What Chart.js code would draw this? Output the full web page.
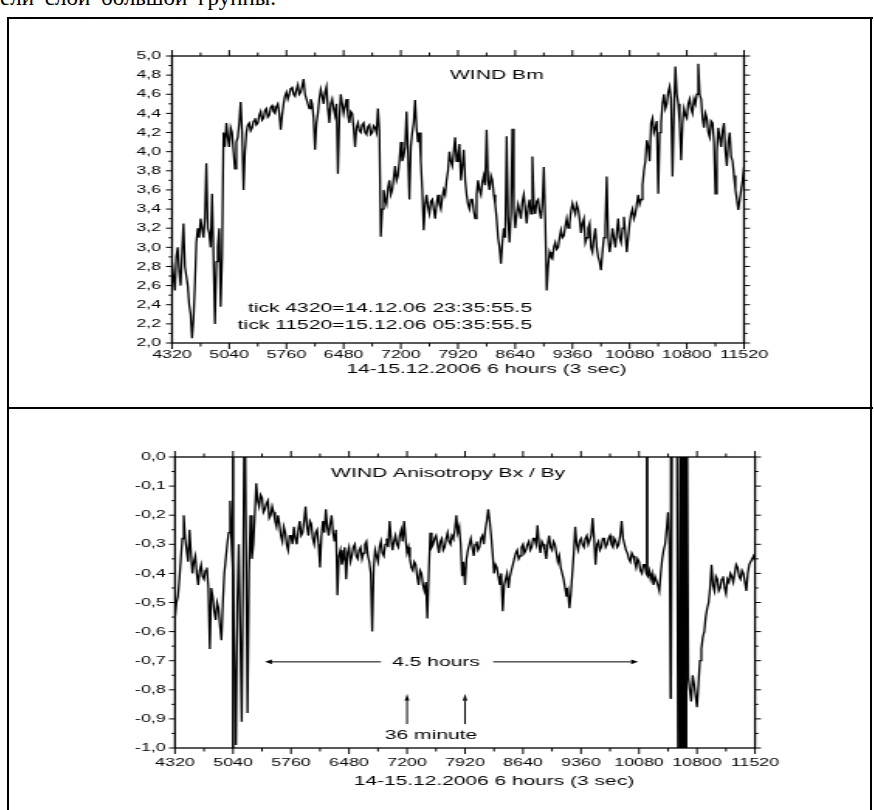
<!DOCTYPE html>
<html>
<head>
<meta charset="utf-8">
<script src="https://cdn.jsdelivr.net/npm/chart.js@4"></script>
<style>
  body { margin: 0; background: #fff; width: 874px; height: 810px; overflow: hidden; position: relative; }
  .rule { position: absolute; background: #000; }
  canvas.plot { position: absolute; }
  #caption { position: absolute; left: 0; top: -15px; font: 23px "Liberation Serif", "Times New Roman", serif; word-spacing: 5px; white-space: nowrap; color: #000; }
</style>
</head>
<body>
<div id="caption">ели слой большой группы.</div>
<div class="rule" style="left:7px;top:17px;width:866px;height:2px"></div>
<div class="rule" style="left:7px;top:17px;width:2px;height:800px"></div>
<div class="rule" style="left:870px;top:17px;width:2px;height:800px"></div>
<div class="rule" style="left:7px;top:407px;width:866px;height:2px"></div>

<!-- the source figure is a horizontally stretched bitmap, so each canvas is drawn narrow and stretched by CSS -->
<canvas id="bmChart" class="plot" width="440" height="350" style="left:100px;top:30px;width:682px;height:350px"></canvas>
<canvas id="anisoChart" class="plot" width="440" height="370" style="left:100px;top:425px;width:682px;height:370px"></canvas>

<script>
const STRETCH = 682 / 440;

// one sample every 18 ticks (3 s per tick)
const tickStart = 4320;
const tickStep = 18;

const bmValues = [
  2.85, 2.7, 2.55, 2.9, 3.0, 2.75, 2.6, 2.95, 3.25, 2.8, 2.7, 2.6, 2.4, 2.3, 2.05, 2.25, 2.6, 3.05, 3.2, 3.1,
  3.3, 3.2, 3.1, 3.3, 3.88, 3.2, 3.15, 3.0, 3.56, 2.9, 2.2, 2.85, 3.0, 3.2, 2.38, 2.9, 4.2, 4.05, 4.3, 4.15,
  4.05, 4.25, 4.2, 4.0, 3.82, 4.1, 4.15, 4.3, 4.52, 4.2, 3.6, 4.0, 4.2, 4.28, 4.3, 4.22, 4.25, 4.32, 4.35, 4.28,
  4.3, 4.38, 4.42, 4.33, 4.35, 4.43, 4.45, 4.36, 4.38, 4.46, 4.48, 4.42, 4.4, 4.47, 4.5, 4.4, 4.23, 4.38, 4.5, 4.58,
  4.62, 4.55, 4.6, 4.66, 4.68, 4.6, 4.58, 4.65, 4.7, 4.6, 4.62, 4.68, 4.76, 4.6, 4.55, 4.5, 4.45, 4.55, 4.5, 4.35,
  4.02, 4.3, 4.4, 4.55, 4.65, 4.58, 4.5, 4.62, 4.68, 4.45, 4.3, 4.5, 4.55, 4.45, 4.38, 4.5, 3.77, 4.35, 4.6, 4.5,
  4.4, 4.48, 4.55, 4.38, 4.3, 4.42, 4.4, 4.25, 4.05, 4.25, 4.3, 4.22, 4.2, 4.28, 4.3, 4.2, 4.18, 4.26, 4.28, 4.18,
  4.2, 4.27, 4.25, 4.2, 4.45, 4.22, 3.11, 3.4, 3.6, 3.5, 3.45, 3.62, 3.7, 3.55, 3.6, 3.72, 3.85, 3.7, 3.75, 3.9,
  4.1, 3.9, 3.95, 4.05, 4.42, 4.0, 3.5, 4.05, 4.2, 4.3, 4.54, 4.25, 4.1, 4.2, 3.9, 3.6, 3.18, 3.45, 3.55, 3.42,
  3.35, 3.48, 3.5, 3.4, 3.3, 3.45, 3.55, 3.45, 3.4, 3.52, 3.6, 3.55, 3.7, 3.8, 4.0, 3.9, 3.85, 4.0, 4.15, 3.9,
  3.95, 4.08, 3.7, 3.85, 4.02, 3.7, 3.55, 3.45, 3.4, 3.5, 3.5, 3.38, 3.3, 3.55, 3.7, 3.6, 3.55, 3.68, 3.75, 3.65,
  4.23, 3.7, 3.6, 3.75, 3.7, 3.55, 3.45, 3.3, 3.1, 3.0, 2.83, 3.05, 3.2, 3.1, 4.16, 3.3, 3.05, 3.35, 4.24, 3.4,
  3.2, 3.35, 3.45, 3.38, 3.3, 3.48, 3.55, 3.4, 3.25, 3.42, 3.5, 3.35, 3.95, 3.45, 3.35, 3.48, 3.5, 3.38, 3.3, 3.45,
  3.84, 3.3, 2.55, 2.8, 2.95, 2.9, 2.88, 3.0, 3.05, 2.98, 3.0, 3.1, 3.18, 3.1, 3.12, 3.22, 3.3, 3.2, 3.25, 3.38,
  3.46, 3.4, 3.35, 3.45, 3.4, 3.3, 3.15, 3.25, 3.3, 3.05, 3.1, 3.2, 3.25, 3.0, 2.95, 3.1, 3.2, 3.0, 2.9, 2.85,
  2.76, 2.95, 3.1, 3.2, 3.74, 3.1, 2.95, 3.05, 3.2, 3.1, 3.0, 3.15, 3.3, 3.1, 3.05, 3.2, 3.32, 3.15, 2.95, 3.1,
  3.25, 3.35, 3.4, 3.3, 3.35, 3.45, 3.55, 3.45, 3.5, 3.65, 3.8, 3.9, 4.12, 4.05, 3.9, 4.3, 4.35, 4.2, 4.25, 4.32,
  3.56, 4.2, 4.3, 4.5, 4.6, 4.45, 4.5, 4.62, 4.68, 4.55, 3.74, 4.4, 4.89, 4.6, 4.5, 4.3, 3.91, 4.3, 4.45, 4.38,
  4.35, 4.5, 4.55, 4.45, 4.4, 4.55, 4.5, 4.6, 4.92, 4.6, 4.55, 4.35, 4.25, 4.4, 4.35, 4.2, 4.15, 4.32, 4.3, 4.1,
  3.56, 4.0, 4.25, 4.15, 4.05, 4.22, 4.3, 4.0, 3.85, 4.1, 4.2, 3.95, 3.9, 3.75, 3.6, 3.5, 3.39, 3.5, 3.6, 3.7,
  3.84
];

const anisoValues = [
  -0.55, -0.5, -0.48, -0.42, -0.35, -0.28, -0.2, -0.28, -0.32, -0.36, -0.25, -0.33, -0.4, -0.36, -0.34, -0.4, -0.44, -0.39, -0.37, -0.41,
  -0.42, -0.39, -0.38, -0.45, -0.66, -0.45, -0.48, -0.53, -0.56, -0.5, -0.52, -0.58, -0.63, -0.5, -0.4, -0.35, -0.3, -0.26, -0.15, -0.3,
  -0.4, -0.7, -0.99, -0.5, -0.3, -0.6, -0.91, -0.4, 0.3, -0.3, -0.88, -0.4, -0.2, -0.35, -0.3, -0.2, -0.09, -0.15, -0.17, -0.13,
  -0.14, -0.19, -0.18, -0.16, -0.15, -0.21, -0.2, -0.17, -0.19, -0.22, -0.24, -0.2, -0.23, -0.27, -0.29, -0.24, -0.26, -0.3, -0.32, -0.27,
  -0.27, -0.3, -0.24, -0.28, -0.3, -0.25, -0.22, -0.27, -0.26, -0.22, -0.17, -0.24, -0.27, -0.22, -0.23, -0.28, -0.3, -0.26, -0.25, -0.3,
  -0.38, -0.27, -0.22, -0.26, -0.18, -0.24, -0.27, -0.23, -0.2, -0.26, -0.29, -0.25, -0.475, -0.34, -0.32, -0.37, -0.35, -0.31, -0.42, -0.33,
  -0.31, -0.36, -0.34, -0.31, -0.3, -0.34, -0.35, -0.32, -0.31, -0.35, -0.33, -0.3, -0.29, -0.34, -0.36, -0.4, -0.6, -0.38, -0.32, -0.34,
  -0.36, -0.31, -0.29, -0.33, -0.34, -0.3, -0.28, -0.31, -0.22, -0.28, -0.32, -0.29, -0.27, -0.3, -0.31, -0.27, -0.25, -0.29, -0.22, -0.28,
  -0.33, -0.31, -0.35, -0.38, -0.39, -0.36, -0.37, -0.41, -0.44, -0.39, -0.4, -0.44, -0.46, -0.43, -0.555, -0.4, -0.26, -0.31, -0.3, -0.28,
  -0.27, -0.3, -0.33, -0.29, -0.28, -0.32, -0.31, -0.28, -0.26, -0.29, -0.3, -0.27, -0.28, -0.25, -0.2, -0.26, -0.24, -0.3, -0.41, -0.36,
  -0.44, -0.35, -0.32, -0.3, -0.28, -0.31, -0.34, -0.3, -0.29, -0.32, -0.31, -0.28, -0.27, -0.3, -0.25, -0.22, -0.18, -0.22, -0.27, -0.33,
  -0.4, -0.37, -0.38, -0.41, -0.44, -0.4, -0.53, -0.44, -0.42, -0.4, -0.45, -0.41, -0.39, -0.37, -0.35, -0.33, -0.32, -0.35, -0.34, -0.31,
  -0.3, -0.33, -0.32, -0.3, -0.29, -0.32, -0.31, -0.28, -0.28, -0.3, -0.235, -0.3, -0.33, -0.29, -0.3, -0.32, -0.35, -0.3, -0.27, -0.31,
  -0.32, -0.29, -0.3, -0.33, -0.36, -0.34, -0.38, -0.4, -0.42, -0.45, -0.48, -0.46, -0.52, -0.47, -0.4, -0.33, -0.24, -0.3, -0.32, -0.29,
  -0.28, -0.3, -0.31, -0.28, -0.27, -0.3, -0.3, -0.27, -0.21, -0.28, -0.37, -0.3, -0.29, -0.32, -0.31, -0.28, -0.28, -0.31, -0.3, -0.28,
  -0.27, -0.3, -0.31, -0.28, -0.29, -0.31, -0.3, -0.27, -0.22, -0.28, -0.3, -0.32, -0.33, -0.35, -0.36, -0.33, -0.34, -0.36, -0.38, -0.35,
  -0.36, -0.39, -0.4, -0.37, -0.37, -0.4, -0.41, -0.39, -0.42, -0.4, -0.44, -0.41, -0.41, -0.44, -0.46, -0.4, -0.35, -0.32, -0.3, -0.25,
  -0.19, -0.3, -0.83, 0.3, 0.3, 0.3, 0.3, -1.2, -1.2, 0.3, 0.3, -1.2, -1.2, 0.3, -0.76, -0.8, -0.84, -0.75, -0.78, -0.82,
  -0.86, -0.78, -0.7, -0.66, -0.62, -0.6, -0.55, -0.52, -0.5, -0.45, -0.37, -0.44, -0.46, -0.41, -0.42, -0.46, -0.45, -0.42, -0.41, -0.45,
  -0.47, -0.42, -0.43, -0.4, -0.41, -0.43, -0.4, -0.37, -0.38, -0.41, -0.42, -0.39, -0.4, -0.43, -0.46, -0.4, -0.37, -0.36, -0.35, -0.34,
  -0.36
];

// single-sample dropouts in the anisotropy record (vertical strokes)
const dropTicks = [5040, 10180, 10477, 10592, 10604, 10616, 10628, 10640, 10652, 10664];
const dropTop = [0, 0, 0, 0, 0, 0, 0, 0, 0, 0];
const dropBottom = [-1, -0.4, -0.83, -1, -1, -1, -1, -1, -1, -1];

const xTitle = "14-15.12.2006 6 hours (3 sec)";

function toPoints(values) {
  return values.map((v, i) => ({ x: tickStart + i * tickStep, y: v }));
}

function drawArrow(ctx, x1, y1, x2, y2) {
  // head built in screen space, squeezed back by the canvas stretch
  const dx = (x2 - x1) * STRETCH, dy = y2 - y1;
  const len = Math.hypot(dx, dy);
  const ux = dx / len, uy = dy / len;
  const hl = 7, hw = 2.3;
  const bx = x2 * STRETCH - ux * hl, by = y2 - uy * hl;
  ctx.lineWidth = 1;
  ctx.beginPath();
  ctx.moveTo(x1, y1);
  ctx.lineTo(bx / STRETCH, by);
  ctx.stroke();
  ctx.beginPath();
  ctx.moveTo(x2, y2);
  ctx.lineTo((bx - uy * hw) / STRETCH, by + ux * hw);
  ctx.lineTo((bx + uy * hw) / STRETCH, by - ux * hw);
  ctx.closePath();
  ctx.fill();
}

// box round the plot with major/minor ticks pointing outward on all four sides
const framePlugin = {
  id: "frame",
  afterDatasetsDraw(chart, args, opts) {
    const { ctx, chartArea: a, scales: { x, y } } = chart;
    ctx.save();
    ctx.strokeStyle = "#000";
    ctx.lineWidth = 1.3;
    ctx.strokeRect(a.left, a.top, a.right - a.left, a.bottom - a.top);
    ctx.lineWidth = 1;
    ctx.beginPath();
    const nx = Math.round((x.max - x.min) / opts.xMinor);
    for (let i = 0; i <= nx; i++) {
      const px = x.getPixelForValue(x.min + i * opts.xMinor);
      const len = i % 2 === 0 ? 6 : 3.5;
      ctx.moveTo(px, a.bottom); ctx.lineTo(px, a.bottom + len);
      ctx.moveTo(px, a.top); ctx.lineTo(px, a.top - len);
    }
    const ny = Math.round((y.max - y.min) / opts.yMinor);
    for (let i = 0; i <= ny; i++) {
      const py = y.getPixelForValue(y.min + i * opts.yMinor);
      const len = (i % 2 === 0 ? 6 : 3.5) / STRETCH;
      ctx.moveTo(a.left, py); ctx.lineTo(a.left - len, py);
      ctx.moveTo(a.right, py); ctx.lineTo(a.right + len, py);
    }
    ctx.stroke();
    ctx.restore();
  }
};

const notesPlugin = {
  id: "notes",
  afterDraw(chart, args, opts) {
    const { ctx, chartArea: a, scales: { x, y } } = chart;
    ctx.save();
    ctx.fillStyle = "#000";
    ctx.strokeStyle = "#000";
    ctx.textBaseline = "middle";
    (opts.texts || []).forEach(t => {
      ctx.font = t.font || '13.6px "Liberation Sans", Arial, sans-serif';
      ctx.textAlign = t.align || "center";
      const py = t.below !== undefined ? a.bottom + t.below : y.getPixelForValue(t.y);
      ctx.fillText(t.text, x.getPixelForValue(t.x), py);
    });
    (opts.arrows || []).forEach(r => {
      drawArrow(ctx, x.getPixelForValue(r.x1), y.getPixelForValue(r.y1),
        x.getPixelForValue(r.x2), y.getPixelForValue(r.y2));
    });
    ctx.restore();
  }
};

const tickFont = { family: '"Liberation Sans", Arial, sans-serif', size: 11.5 };

function makeChart(id, cfg) {
  return new Chart(document.getElementById(id), {
    type: "line",
    data: { datasets: cfg.datasets },
    options: {
      responsive: false,
      animation: false,
      devicePixelRatio: 1,
      events: [],
      layout: { padding: { top: cfg.padTop, right: cfg.padRight, left: 0, bottom: 0 } },
      plugins: {
        legend: { display: false },
        tooltip: { enabled: false },
        frame: { xMinor: 360, yMinor: cfg.yMinor },
        notes: cfg.notes
      },
      scales: {
        x: {
          type: "linear",
          min: 4320,
          max: 11520,
          grid: { display: false, drawTicks: false },
          border: { display: false },
          ticks: {
            stepSize: 720, autoSkip: false, maxRotation: 0, minRotation: 0,
            padding: cfg.xPad, color: "#000", font: tickFont,
            callback: v => String(v)
          },
          afterFit: s => { s.height = cfg.xHeight; s.paddingLeft = 0; s.paddingRight = 0; }
        },
        y: {
          min: cfg.yMin,
          max: cfg.yMax,
          grid: { display: false, drawTicks: false },
          border: { display: false },
          ticks: {
            stepSize: cfg.yStep,
            autoSkip: false,
            padding: cfg.yPad,
            color: "#000",
            font: tickFont,
            callback: v => v.toFixed(1).replace(".", ",")
          },
          afterFit: s => { s.width = cfg.yWidth; }
        }
      }
    },
    plugins: [framePlugin, notesPlugin]
  });
}

const lineStyle = { borderColor: "#000", borderWidth: 1.3, pointRadius: 0, tension: 0, fill: false };

makeChart("bmChart", {
  datasets: [{ ...lineStyle, data: toPoints(bmValues) }],
  padTop: 26, padRight: 440 - 644 / STRETCH, xHeight: 37, xPad: 5, yWidth: 72 / STRETCH, yPad: 7,
  yMin: 2.0, yMax: 5.0, yStep: 0.2, yMinor: 0.1,
  notes: {
    texts: [
      { text: "WIND Bm", x: 7819, y: 4.80, align: "left" },
      { text: "tick 4320=14.12.06 23:35:55.5", x: 8851, y: 2.366, align: "right" },
      { text: "tick 11520=15.12.06 05:35:55.5", x: 8851, y: 2.19, align: "right" },
      { text: xTitle, x: 8280, below: 26, font: '13.5px "Liberation Sans", Arial, sans-serif' }
    ]
  }
});

makeChart("anisoChart", {
  datasets: [
    { ...lineStyle, data: toPoints(anisoValues) },
    {
      ...lineStyle,
      borderWidth: 1,
      spanGaps: false,
      data: dropTicks.flatMap((t, i) => [{ x: t, y: dropTop[i] }, { x: t, y: dropBottom[i] }, { x: t, y: null }])
    }
  ],
  padTop: 32, padRight: 440 - 655 / STRETCH, xHeight: 47, xPad: 8, yWidth: 75 / STRETCH, yPad: 6,
  yMin: -1.0, yMax: 0.0, yStep: 0.1, yMinor: 0.05,
  notes: {
    texts: [
      { text: "WIND Anisotropy Bx / By", x: 6257, y: -0.057, align: "left" },
      { text: "4.5 hours", x: 7560, y: -0.704 },
      { text: "36 minute", x: 7498, y: -0.955 },
      { text: xTitle, x: 8280, below: 33, font: '13.5px "Liberation Sans", Arial, sans-serif' }
    ],
    arrows: [
      { x1: 6877, y1: -0.704, x2: 5437, y2: -0.704 },
      { x1: 8268, y1: -0.704, x2: 10068, y2: -0.704 },
      { x1: 7200, y1: -0.918, x2: 7200, y2: -0.814 },
      { x1: 7920, y1: -0.918, x2: 7920, y2: -0.814 }
    ]
  }
});
</script>
</body>
</html>
